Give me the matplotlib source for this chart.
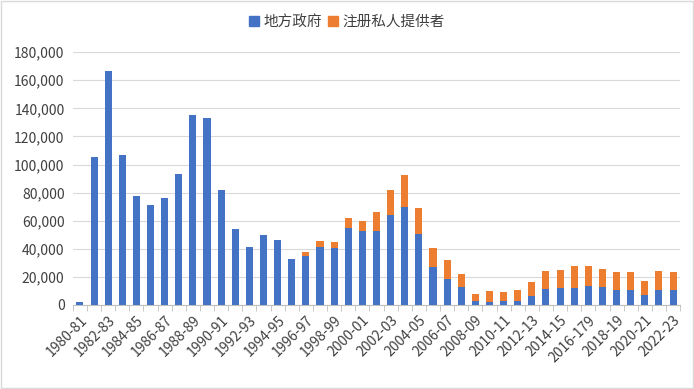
import matplotlib.pyplot as plt
from matplotlib.patches import Patch
from matplotlib.ticker import FuncFormatter

plt.rcParams['font.family'] = ['Noto Sans CJK SC', 'DejaVu Sans']

# 年度（原图 2016-17 的标签写成了 "2016-179"）
years = ['1980-81', '1981-82', '1982-83', '1983-84', '1984-85', '1985-86', '1986-87',
         '1987-88', '1988-89', '1989-90', '1990-91', '1991-92', '1992-93', '1993-94',
         '1994-95', '1995-96', '1996-97', '1997-98', '1998-99', '1999-00', '2000-01',
         '2001-02', '2002-03', '2003-04', '2004-05', '2005-06', '2006-07', '2007-08',
         '2008-09', '2009-10', '2010-11', '2011-12', '2012-13', '2013-14', '2014-15',
         '2015-16', '2016-179', '2017-18', '2018-19', '2019-20', '2020-21', '2021-22',
         '2022-23']

local_gov = [2400, 105000, 166500, 106500, 77500, 71500, 76000,
             93000, 135500, 133000, 81500, 54000, 41500, 50000,
             46000, 33000, 35000, 41500, 40500, 54500, 52500,
             52800, 64000, 70000, 50600, 27000, 18300, 12500,
             2900, 2100, 3100, 3100, 6400, 11700, 12400,
             12400, 13600, 13100, 10700, 10700, 7400, 10700,
             10700]

private = [0, 0, 0, 0, 0, 0, 0,
           0, 0, 0, 0, 0, 0, 0,
           0, 0, 2500, 4300, 4500, 7200, 7500,
           13700, 17700, 22500, 18100, 13500, 13700, 9200,
           5200, 8100, 6400, 7900, 10000, 12600, 12600,
           15500, 14400, 12600, 12900, 12900, 9700, 13600,
           12900]

blue = '#4472C4'
orange = '#ED7D31'

fig = plt.figure(figsize=(6.94, 3.89), dpi=100)
ax = fig.add_axes([0.105, 0.216, 0.875, 0.650])

x = list(range(len(years)))
ax.bar(x, local_gov, width=0.5, color=blue, zorder=3)
ax.bar(x, private, width=0.5, bottom=local_gov, color=orange, zorder=3)

ax.set_xlim(-0.5, len(years) - 0.5)
ax.set_ylim(0, 180000)
ax.set_yticks(range(0, 180001, 20000))
ax.yaxis.set_major_formatter(FuncFormatter(lambda v, p: f'{int(v):,}'))
ax.grid(axis='y', color='#d9d9d9', linewidth=0.8, zorder=0)

ax.set_xticks(x[::2])
ax.set_xticklabels(years[::2], rotation=45, ha='right', rotation_mode='anchor')
ax.set_xticks([i - 0.5 for i in range(len(years) + 1)], minor=True)
ax.tick_params(axis='x', which='major', length=0, pad=6, labelsize=10, labelcolor='#404040')
ax.tick_params(axis='x', which='minor', length=4, color='#bfbfbf')
ax.tick_params(axis='y', length=0, labelsize=10, labelcolor='#404040', pad=6)

for s in ['top', 'right', 'left']:
    ax.spines[s].set_visible(False)
ax.spines['bottom'].set_color('#bfbfbf')

handles = [Patch(color=blue, label='地方政府'), Patch(color=orange, label='注册私人提供者')]
fig.legend(handles=handles, loc='center', bbox_to_anchor=(0.5, 0.943), ncol=2,
           frameon=False, fontsize=10.5, handlelength=0.7, handleheight=0.7,
           handletextpad=0.3, columnspacing=0.4, labelcolor='#404040')

fig.patches.append(plt.Rectangle((0.001, 0.002), 0.997, 0.995, transform=fig.transFigure,
                                 fill=False, edgecolor='#d9d9d9', linewidth=1))

fig.savefig('out.png', dpi=100)
